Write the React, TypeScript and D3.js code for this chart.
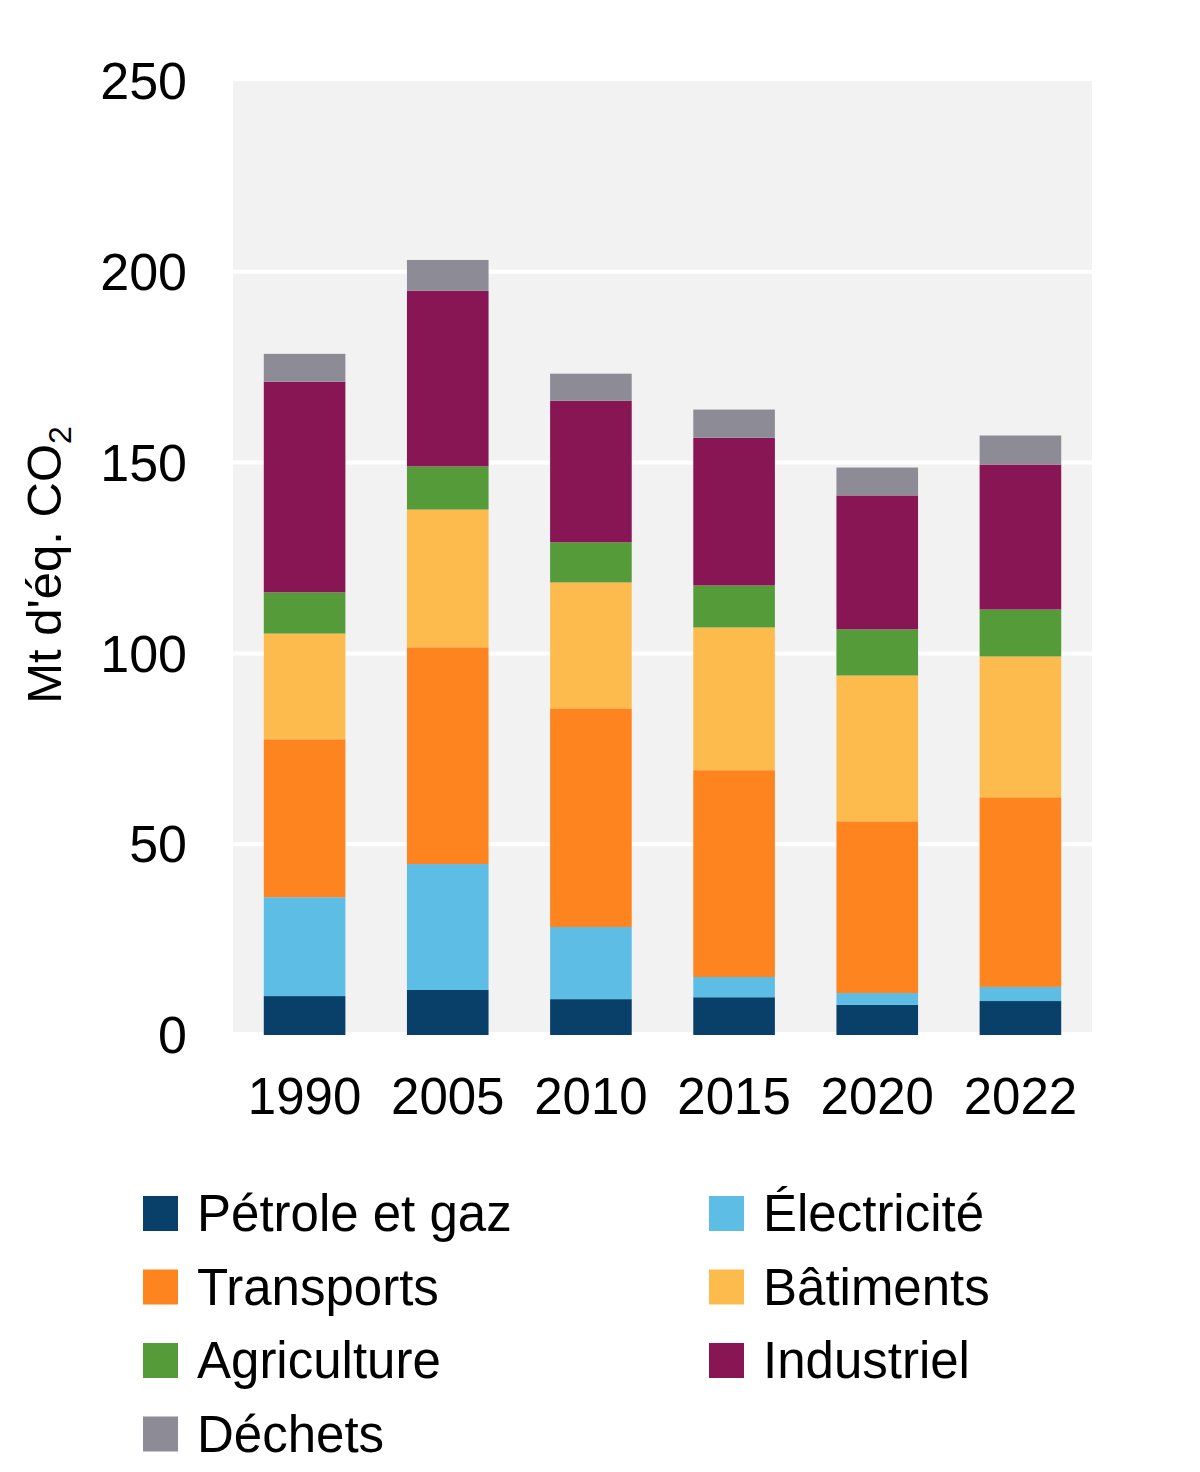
import React, { useEffect, useRef } from 'react';
import * as d3 from 'd3';

const years = ['1990', '2005', '2010', '2015', '2020', '2022'];
const sectors = ['Pétrole et gaz', 'Électricité', 'Transports', 'Bâtiments', 'Agriculture', 'Industriel', 'Déchets'];
const colors = ['#08406a', '#5ebde5', '#fe8420', '#fdbb4e', '#569b39', '#881554', '#8d8c96'];

const petroleGaz = [10.2, 11.8, 9.4, 9.9, 7.9, 8.9];
const electricite = [25.9, 33.0, 18.9, 5.3, 3.1, 3.7];
const transports = [41.4, 56.8, 57.3, 54.2, 45.0, 49.7];
const batiments = [27.7, 36.1, 33.0, 37.4, 38.2, 36.9];
const agriculture = [10.8, 11.3, 10.5, 11.0, 12.1, 12.3];
const industriel = [55.2, 46.0, 37.1, 38.7, 35.1, 38.0];
const dechets = [7.3, 8.1, 7.1, 7.4, 7.3, 7.6];

const yTicks = [0, 50, 100, 150, 200, 250];

const App: React.FC = () => {
  const svgRef = useRef<SVGSVGElement>(null);

  useEffect(() => {
    if (!svgRef.current) return;
    const svg = d3.select(svgRef.current);
    svg.selectAll('*').remove();

    const series = [petroleGaz, electricite, transports, batiments, agriculture, industriel, dechets];
    const rows = years.map((year, i) => {
      const row: Record<string, any> = { year };
      sectors.forEach((s, k) => { row[s] = series[k][i]; });
      return row;
    });

    const x = d3.scaleBand()
      .domain(years)
      .range([233, 1092])
      .paddingInner(0.43)
      .paddingOuter(0.215);

    const y = d3.scaleLinear().domain([0, 250]).range([1035, 81]);

    const font = 'Liberation Sans, Arial, sans-serif';

    // plot background
    svg.append('rect')
      .attr('x', 233)
      .attr('y', y(250))
      .attr('width', 1092 - 233)
      .attr('height', y(0) - 3 - y(250))
      .attr('fill', '#f2f2f2');

    // gridlines
    svg.append('g')
      .selectAll('line')
      .data(yTicks.filter(t => t > 0 && t < 250))
      .join('line')
        .attr('x1', 233)
        .attr('x2', 1092)
        .attr('y1', d => y(d))
        .attr('y2', d => y(d))
        .attr('stroke', '#ffffff')
        .attr('stroke-width', 4);

    const stack = d3.stack<any>().keys(sectors)(rows);
    const color = d3.scaleOrdinal<string, string>().domain(sectors).range(colors);

    svg.append('g')
      .selectAll('g')
      .data(stack)
      .join('g')
        .attr('fill', d => color(d.key))
      .selectAll('rect')
      .data(d => d)
      .join('rect')
        .attr('x', d => x(d.data.year) as number)
        .attr('width', x.bandwidth())
        .attr('y', d => y(d[1]))
        .attr('height', d => y(d[0]) - y(d[1]));

    // y tick labels
    svg.append('g')
      .selectAll('text')
      .data(yTicks)
      .join('text')
        .attr('x', 187)
        .attr('y', d => y(d))
        .attr('dy', '0.35em')
        .attr('text-anchor', 'end')
        .attr('font-family', font)
        .attr('font-size', 52)
        .attr('fill', '#000')
        .text(d => d);

    // x labels
    svg.append('g')
      .selectAll('text')
      .data(years)
      .join('text')
        .attr('x', d => (x(d) as number) + x.bandwidth() / 2)
        .attr('y', 1114)
        .attr('text-anchor', 'middle')
        .attr('font-family', font)
        .attr('font-size', 51)
        .attr('fill', '#000')
        .text(d => d);

    // y axis title
    const title = svg.append('text')
      .attr('transform', 'translate(61,565) rotate(-90)')
      .attr('text-anchor', 'middle')
      .attr('font-family', font)
      .attr('font-size', 49)
      .attr('fill', '#000');
    title.append('tspan').text("Mt d'éq. CO");
    title.append('tspan').attr('font-size', 32).attr('dy', 10).text('2');

    // legend
    const legend = svg.append('g')
      .selectAll('g')
      .data(sectors)
      .join('g')
        .attr('transform', (d, i) => `translate(${i % 2 === 0 ? 143 : 709},${1196 + Math.floor(i / 2) * 73.5})`);

    legend.append('rect')
      .attr('width', 35)
      .attr('height', 35)
      .attr('fill', d => color(d));

    legend.append('text')
      .attr('x', 54)
      .attr('y', 17.5)
      .attr('dy', '0.35em')
      .attr('font-family', font)
      .attr('font-size', 51)
      .attr('fill', '#000')
      .text(d => d);
  }, []);

  return (
    <div style={{ position: 'absolute', left: 0, top: 0 }}>
      <svg ref={svgRef} width={1200} height={1472} style={{ display: 'block', background: '#fff' }}></svg>
    </div>
  );
};

export default App;
